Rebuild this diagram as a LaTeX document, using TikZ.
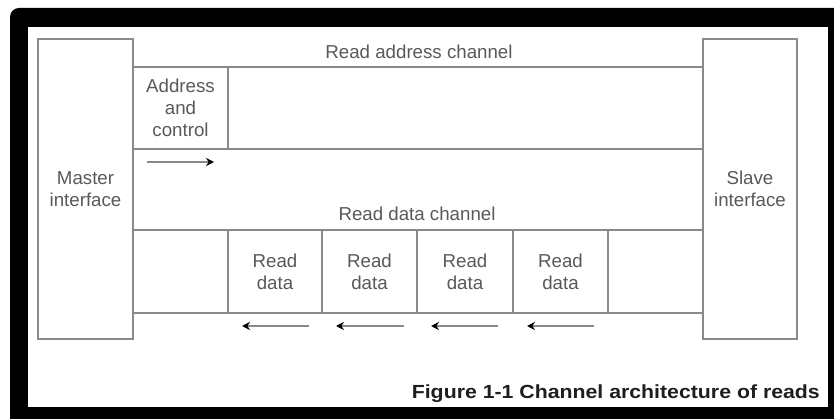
\documentclass[tikz,border=0pt]{standalone}
\usepackage{fontspec}
\usepackage{graphicx}
\setmainfont{Liberation Sans}
\usetikzlibrary{arrows.meta}
\definecolor{linegray}{HTML}{8A8A8A}
\definecolor{txtgray}{HTML}{595959}
\definecolor{capblack}{HTML}{1E1E1E}
\begin{document}
\begin{tikzpicture}[x=1pt,y=-1pt,
  box/.style={draw=linegray, line width=1.4pt, inner sep=0pt, text=txtgray,
    font=\fontsize{18.7}{22}\selectfont, align=center},
  lbl/.style={text=txtgray, font=\fontsize{18.7}{22}\selectfont, inner sep=0pt},
  chan/.style={draw=linegray, line width=1.4pt},
  flow/.style={draw=linegray, line width=1.5pt, -{Stealth[length=8pt,width=8pt,color=black]}}]
\useasboundingbox (0,0) rectangle (834,419);
\clip (0,0) rectangle (834,419);
\fill[white] (0,0) rectangle (834,419);
\fill[black, rounded corners=9pt] (10,8) rectangle (860,445);
\fill[white] (28,27) rectangle (828,407);

% interfaces
\node[box, minimum width=95pt, minimum height=300pt] (master) at (85.5,189) {Master\\interface};
\node[box, minimum width=94pt, minimum height=300pt] (slave) at (750,189) {Slave\\interface};

% read address channel
\coordinate (ya) at (0,67);
\coordinate (yb) at (0,149);
\draw[chan] (master.east |- ya) -- (slave.west |- ya);
\draw[chan] (master.east |- yb) -- (slave.west |- yb);
\node[box, minimum width=95pt, minimum height=82pt] (addr) at (180.5,108) {Address\\and\\control};
\node[lbl] (rac) at (419,52) {Read address channel};

% read data channel
\coordinate (yc) at (0,230);
\coordinate (yd) at (0,313);
\draw[chan] (master.east |- yc) -- (slave.west |- yc);
\draw[chan] (master.east |- yd) -- (slave.west |- yd);
\node[box, minimum width=94pt, minimum height=83pt] (rd1) at (275,271.5) {Read\\data};
\node[box, minimum width=95pt, minimum height=83pt] (rd2) at (369.5,271.5) {Read\\data};
\node[box, minimum width=96pt, minimum height=83pt] (rd3) at (465,271.5) {Read\\data};
\node[box, minimum width=95pt, minimum height=83pt] (rd4) at (560.5,271.5) {Read\\data};
\node[lbl] (rdc) at (417,214) {Read data channel};

% arrows
\coordinate (t1) at (147,162); \coordinate (t2) at (214,162);
\draw[flow] (t1) -- (t2);
\coordinate (p1) at (309,326); \coordinate (q1) at (242,326);
\coordinate (p2) at (404,326); \coordinate (q2) at (336,326);
\coordinate (p3) at (498,326); \coordinate (q3) at (431,326);
\coordinate (p4) at (594,326); \coordinate (q4) at (527,326);
\draw[flow] (p1) -- (q1);
\draw[flow] (p2) -- (q2);
\draw[flow] (p3) -- (q3);
\draw[flow] (p4) -- (q4);

% caption
\node[anchor=base east, inner sep=0pt, text=capblack, font=\bfseries\fontsize{19}{22}\selectfont] (cap) at (820,398)
  {\scalebox{1.12}[1]{Figure 1-1 Channel architecture of reads}};
\end{tikzpicture}
\end{document}
